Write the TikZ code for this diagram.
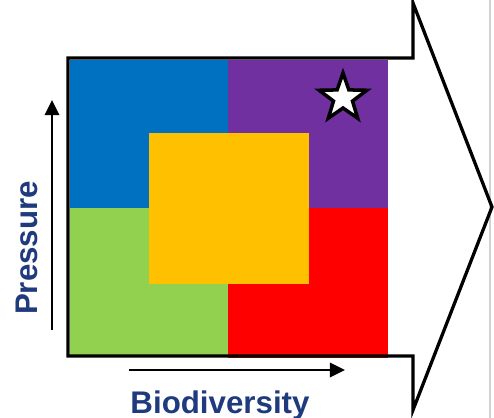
\documentclass[tikz,border=0pt]{standalone}
\usepackage{fontspec}
\setmainfont{Liberation Sans}
\usetikzlibrary{arrows.meta, shapes.geometric}
\definecolor{quadblue}{HTML}{0070C0}
\definecolor{quadpurple}{HTML}{7030A0}
\definecolor{quadgreen}{HTML}{92D050}
\definecolor{quadred}{HTML}{FF0000}
\definecolor{quadorange}{HTML}{FFC000}
\definecolor{labelblue}{HTML}{1F3A7D}
\tikzset{%
    axislabel/.style={text=labelblue, font=\fontsize{26.7}{30}\selectfont\bfseries, inner sep=0pt},
    axisarrow/.style={-{Triangle[length=13pt, width=12.5pt]}, line width=1.7pt}
}

\begin{document}
\begin{tikzpicture}[x=0.03cm, y=-0.03cm]

    \useasboundingbox (0, 0) rectangle (494, 418);

    % faint slide edge
    \draw[gray!35, line width=1.2pt] (490, 0) -- (490, 418);

    % Quadrants
    \fill[quadblue]   (70, 60)   rectangle (228, 208);
    \fill[quadpurple] (228, 60)  rectangle (388, 208);
    \fill[quadgreen]  (70, 208)  rectangle (228, 357);
    \fill[quadred]    (228, 208) rectangle (388, 358);
    \fill[quadorange] (149, 133) rectangle (309, 284);

    % Big arrow outline
    \draw[line width=2.8pt, line join=miter]
        (68, 58) -- (413, 58) -- (413, 3) -- (492, 207)
        -- (413, 410) -- (413, 356) -- (68, 356) -- cycle;

    % Star
    \node[star, star points=5, star point ratio=2.5, minimum size=50*0.03cm,
          inner sep=0pt, draw=black, fill=white, line width=3pt, line join=miter] (best) at (343, 98) {};

    % Axes
    \coordinate (pres-start) at (52, 330);
    \coordinate (pres-end) at (52, 100);
    \draw[axisarrow] (pres-start) -- (pres-end);

    \coordinate (bio-start) at (129, 370);
    \coordinate (bio-end) at (345, 370);
    \draw[axisarrow] (bio-start) -- (bio-end);

    \node[axislabel, rotate=90] (pressure) at (27, 248) {Pressure};
    \node[axislabel, anchor=base] (biodiversity) at (220, 413) {Biodiversity};

\end{tikzpicture}
\end{document}
